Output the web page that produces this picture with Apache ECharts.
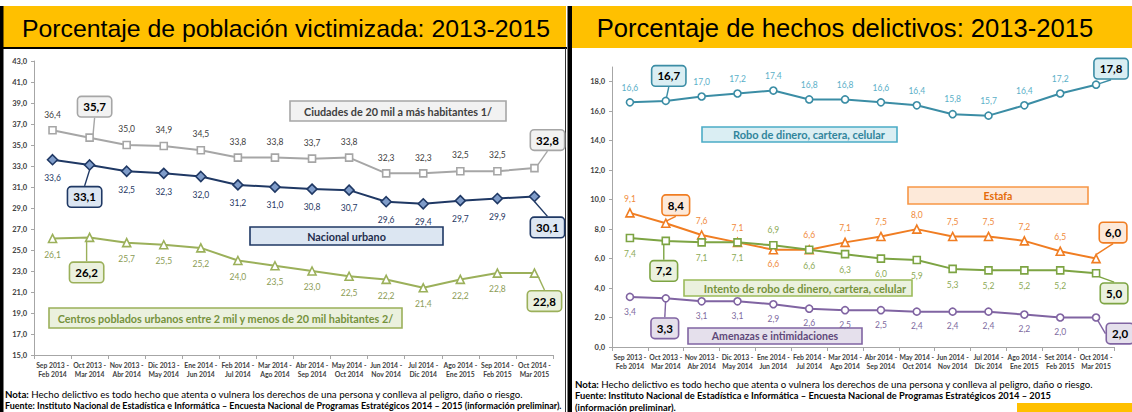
<!DOCTYPE html>
<html><head><meta charset="utf-8">
<script src="https://cdn.jsdelivr.net/npm/echarts@6/dist/echarts.min.js"></script>
<style>html,body{margin:0;padding:0;background:#fff}#c{width:1132px;height:412px}</style>
</head><body><div id="c"></div>
<script>
// ---------- DATA ----------
const catsLeft = ["Sep 2013 -\nFeb 2014","Oct 2013 -\nMar 2014","Nov 2013 -\nAbr 2014","Dic 2013 -\nMay 2014","Ene 2014 -\nJun 2014","Feb 2014 -\nJul 2014","Mar 2014 -\nAgo 2014","Abr 2014 -\nSep 2014","May 2014 -\nOct 2014","Jun 2014 -\nNov 2014","Jul 2014 -\nDic 2014","Ago 2014 -\nEne 2015","Sep 2014 -\nFeb 2015","Oct 2014 -\nMar 2015"];
const catsRight = ["Sep 2013 -\nFeb 2014","Oct 2013 -\nMar 2014","Nov 2013 -\nAbr 2014","Dic 2013 -\nMay 2014","Ene 2014 -\nJun 2014","Feb 2014 -\nJul 2014","Mar 2014 -\nAgo 2014","Abr 2014 -\nSep 2014","May 2014 -\nOct 2014","Jun 2014 -\nNov 2014","Jul 2014 -\nDic 2014","Ago 2014 -\nEne 2015","Set 2014 -\nFeb 2015","Oct 2014 -\nMar 2015"];
const ciudades = [36.4,35.7,35.0,34.9,34.5,33.8,33.8,33.7,33.8,32.3,32.3,32.5,32.5,32.8];
const nacional = [33.6,33.1,32.5,32.3,32.0,31.2,31.0,30.8,30.7,29.6,29.4,29.7,29.9,30.1];
const centros  = [26.1,26.2,25.7,25.5,25.2,24.0,23.5,23.0,22.5,22.2,21.4,22.2,22.8,22.8];
const robo     = [16.6,16.7,17.0,17.2,17.4,16.8,16.8,16.6,16.4,15.8,15.7,16.4,17.2,17.8];
const estafa   = [9.1,8.4,7.6,7.1,6.6,6.6,7.1,7.5,8.0,7.5,7.5,7.2,6.5,6.0];
const intento  = [7.4,7.2,7.1,7.1,6.9,6.6,6.3,6.0,5.9,5.3,5.2,5.2,5.2,5.0];
const amenazas = [3.4,3.3,3.1,3.1,2.9,2.6,2.5,2.5,2.4,2.4,2.4,2.2,2.0,2.0];
const leftTicks = {min:15, max:43, interval:2};
const rightTicks = {min:0, max:19, interval:2};
const titleLeft = "Porcentaje de población victimizada: 2013-2015";
const titleRight = "Porcentaje de hechos delictivos: 2013-2015";
const nameCiudades = "Ciudades de 20 mil a más habitantes 1/";
const nameNacional = "Nacional urbano";
const nameCentros = "Centros poblados urbanos entre 2 mil y menos de 20 mil habitantes 2/";
const nameRobo = "Robo de dinero, cartera, celular";
const nameEstafa = "Estafa";
const nameIntento = "Intento de robo de dinero, cartera, celular";
const nameAmenazas = "Amenazas e intimidaciones";
const notaTxt = "Hecho delictivo es todo hecho que atenta o vulnera los derechos de una persona y conlleva al peligro, daño o riesgo.";
const fuenteTxt = "Fuente: Instituto Nacional de Estadística e Informática – Encuesta Nacional de Programas Estratégicos 2014 – 2015";
const prelimTxt = "(información preliminar).";

// ---------- STYLE / LAYOUT ----------
const FONT = 'Lato, "Open Sans", sans-serif';
const fmt = v => Number(v).toFixed(1).replace('.', ',');

function calloutLayout(offsets){
  return function(p){
    const o = offsets[p.dataIndex];
    if(!o) return {};
    return {x: p.rect.x + p.rect.width/2 + o[0], y: p.rect.y + p.rect.height/2 + o[1], align:'center', verticalAlign:'middle'};
  };
}
function buildData(vals, offsets, box, labelOverride){
  return vals.map((v,i)=>{
    if(offsets[i]) {
      return {value:v, label:{show:true, formatter:p=>fmt(p.value), color:'#000', fontWeight:'bold', fontSize:11.5, fontFamily:FONT,
        backgroundColor:box.fill, borderColor:box.stroke, borderWidth:1.6, borderRadius:3, padding:[4,5,3,5]},
        labelLine:{show:true, lineStyle:{color:box.stroke, width:1.4}}};
    }
    if(labelOverride && labelOverride[i]) return {value:v, label:{position:labelOverride[i]}};
    return v;
  });
}
function lineSeries(o){
  return {
    type:'line', name:o.name, xAxisIndex:o.g, yAxisIndex:o.g,
    data: buildData(o.data, o.offsets, o.box, o.override),
    symbol:o.symbol, symbolSize:o.size, showAllSymbol:true,
    itemStyle:{color:o.fill||'#fff', borderColor:o.color, borderWidth:1.6},
    lineStyle:{color:o.color, width:2},
    label:{show:true, position:o.pos, distance:o.dist, formatter:p=>fmt(p.value), color:o.labelColor, fontSize:8.5, fontFamily:FONT},
    labelLine:{show:false},
    labelLayout: calloutLayout(o.offsets),
    animation:false, z:3
  };
}

function xAx(g, cats){
  return {type:'category', gridIndex:g, data:cats, boundaryGap:true,
    axisLine:{lineStyle:{color:'#A6A6A6', width:1}},
    axisTick:{show:true, alignWithLabel:false, length:4, lineStyle:{color:'#A6A6A6'}},
    axisLabel:{interval:0, fontSize:6.8, fontWeight:'bold', color:'#404040', fontFamily:FONT, lineHeight:9.5, margin:5}};
}
function yAx(g, t){
  return {type:'value', gridIndex:g, min:t.min, max:t.max, interval:t.interval,
    splitLine:{show:false},
    axisLine:{show:true, lineStyle:{color:'#A6A6A6', width:1}},
    axisTick:{show:true, length:3, lineStyle:{color:'#A6A6A6'}},
    axisLabel:{fontSize:7.5, fontWeight:'bold', color:'#404040', fontFamily:FONT, margin:7,
      showMaxLabel: (t.max - t.min) % t.interval === 0,
      formatter:v=> ((v - t.min) % t.interval === 0 ? fmt(v) : '')}};
}

function nameBox(x,y,w,h,fill,stroke,text,color,fs,tx){
  return {type:'group', children:[
    {type:'rect', shape:{x:x,y:y,width:w,height:h}, style:{fill:fill, stroke:stroke, lineWidth:1.6}},
    {type:'text', style:{x:(tx!=null?tx:x+w/2), y:y+h/2, text:text, fill:color, font:'bold '+fs+'px '+FONT, textAlign:'center', textVerticalAlign:'middle'}}
  ]};
}

const chart = echarts.init(document.getElementById('c'), null, {renderer:'svg'});
chart.setOption({
  backgroundColor:'#fff',
  animation:false,
  grid:[
    {left:34, right:579, top:61, bottom:57},
    {left:612, right:18, top:67, bottom:65}
  ],
  xAxis:[xAx(0,catsLeft), xAx(1,catsRight)],
  yAxis:[yAx(0,leftTicks), yAx(1,rightTicks)],
  series:[
    lineSeries({name:nameCiudades, g:0, data:ciudades, symbol:'rect', size:7, color:'#A6A6A6', labelColor:'#404040', pos:'top', dist:7,
      offsets:{1:[5,-31], 13:[13,-28]}, box:{fill:'#F2F2F2', stroke:'#A6A6A6'}}),
    lineSeries({name:nameNacional, g:0, data:nacional, symbol:'diamond', size:10, color:'#1F3864', fill:'#7F9CC9', labelColor:'#1F3864', pos:'bottom', dist:8,
      offsets:{1:[-5,32], 13:[13,31]}, box:{fill:'#DCE6F2', stroke:'#1F3864'}}),
    lineSeries({name:nameCentros, g:0, data:centros, symbol:'triangle', size:8, color:'#9BB05A', labelColor:'#8C9C55', pos:'bottom', dist:7,
      offsets:{1:[-3,35], 13:[10,28]}, box:{fill:'#EBF1DE', stroke:'#9BB05A'}}),
    lineSeries({name:nameRobo, g:1, data:robo, symbol:'circle', size:7, color:'#3B8DA5', labelColor:'#5AAFC8', pos:'top', dist:6,
      offsets:{1:[3,-25], 13:[15,-16]}, box:{fill:'#DAEEF3', stroke:'#3B8DA5'}}),
    lineSeries({name:nameEstafa, g:1, data:estafa, symbol:'triangle', size:8, color:'#F07D22', labelColor:'#F08A3A', pos:'top', dist:5,
      offsets:{1:[10,-18], 13:[17,-26]}, box:{fill:'#FDE9D9', stroke:'#F07D22'}, override:{4:'bottom'}}),
    lineSeries({name:nameIntento, g:1, data:intento, symbol:'rect', size:7, color:'#7DA443', labelColor:'#8CAA55', pos:'bottom', dist:7,
      offsets:{1:[-2,30], 13:[18,20]}, box:{fill:'#EBF1DE', stroke:'#7DA443'}, override:{4:'top'}}),
    lineSeries({name:nameAmenazas, g:1, data:amenazas, symbol:'circle', size:7, color:'#8064A2', labelColor:'#7E6AA0', pos:'bottom', dist:6,
      offsets:{1:[-1,30], 13:[24,16]}, box:{fill:'#E5E0EC', stroke:'#8064A2'}})
  ],
  graphic:[
    {type:'rect', shape:{x:3,y:6,width:563,height:42}, style:{fill:'#FFC000'}},
    {type:'rect', shape:{x:0,y:47,width:567,height:2}, style:{fill:'#000'}},
    {type:'rect', shape:{x:0,y:6,width:3.5,height:406}, style:{fill:'#000'}},
    {type:'rect', shape:{x:565,y:48,width:1,height:364}, style:{fill:'#333'}},
    {type:'rect', shape:{x:567.5,y:6,width:4.5,height:406}, style:{fill:'#000'}},
    {type:'rect', shape:{x:572,y:6,width:560,height:42}, style:{fill:'#FFC000'}},
    {type:'text', style:{x:286, y:28, text:titleLeft, fill:'#000', font:'24.8px "Liberation Sans", Arial, sans-serif', textAlign:'center', textVerticalAlign:'middle'}},
    {type:'text', style:{x:845, y:28, text:titleRight, fill:'#000', font:'25.6px "Liberation Sans", Arial, sans-serif', textAlign:'center', textVerticalAlign:'middle'}},
    nameBox(290,101,216,20,'#F2F2F2','#A6A6A6',nameCiudades,'#404040',10.8),
    nameBox(250,227,193,18,'#DCE6F2','#1F3864',nameNacional,'#1F2D4D',10.8),
    nameBox(49,308,353,20,'#EBF1DE','#9BB05A',nameCentros,'#76923C',10.8),
    nameBox(702,127,195,15,'#DAEEF3','#4BACC6',nameRobo,'#31859C',11,809),
    nameBox(908,187,180,17,'#FDE9D9','#F79646',nameEstafa,'#E46C0A',10.5),
    nameBox(684,280,228,16,'#EBF1DE','#9BBB59',nameIntento,'#77933C',11,805),
    nameBox(688,328,174,16,'#E5E0EC','#8064A2',nameAmenazas,'#5F497A',10.5),
    {type:'text', style:{x:5, y:394, text:'{b|Nota:} '+notaTxt, textVerticalAlign:'middle', font:'9.7px '+FONT, fill:'#000',
      rich:{b:{fontWeight:'bold', fontSize:9.7, fontFamily:FONT, fill:'#000'}}}},
    {type:'text', style:{x:5, y:405.5, text:fuenteTxt+' '+prelimTxt, textVerticalAlign:'middle', font:'bold 8.95px '+FONT, fill:'#000'}},
    {type:'text', style:{x:575, y:384, text:'{b|Nota:} '+notaTxt, textVerticalAlign:'middle', font:'9.7px '+FONT, fill:'#000',
      rich:{b:{fontWeight:'bold', fontSize:9.7, fontFamily:FONT, fill:'#000'}}}},
    {type:'text', style:{x:575, y:395.5, text:fuenteTxt, textVerticalAlign:'middle', font:'bold 9.3px '+FONT, fill:'#000'}},
    {type:'text', style:{x:575, y:407, text:prelimTxt, textVerticalAlign:'middle', font:'bold 9.3px '+FONT, fill:'#000'}},
    {type:'rect', shape:{x:1017,y:403,width:115,height:9}, style:{fill:'#FFC000'}}
  ]
});
</script></body></html>
